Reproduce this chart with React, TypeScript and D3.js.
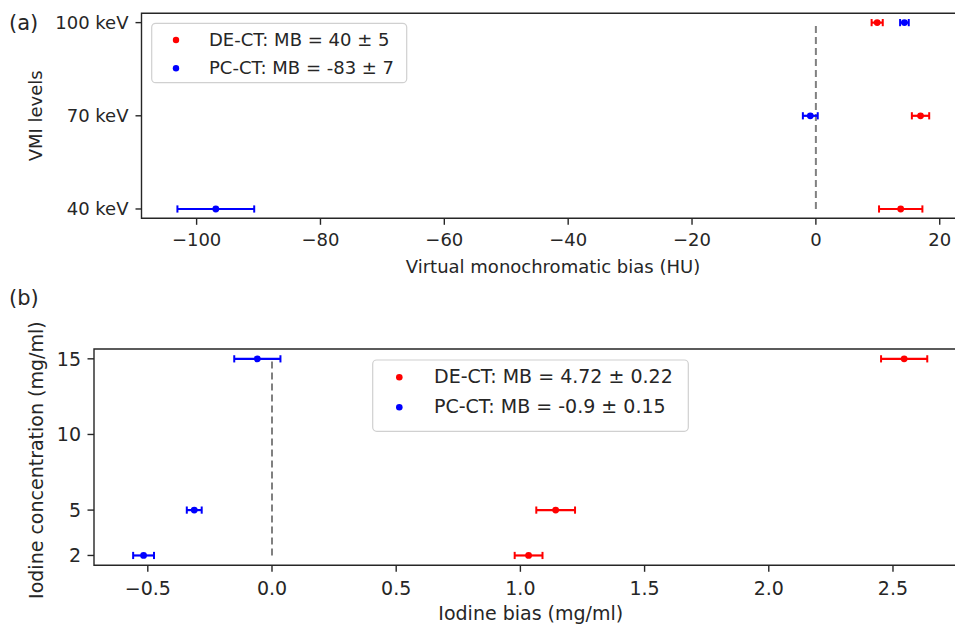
import React from "react";
import * as d3 from "d3";

// ---------- Data ----------
// Panel (a): VMI levels (keV)
const vmiLevels = [40, 70, 100];
const vmiTickLabels = ["40 keV", "70 keV", "100 keV"];
const vmiDE = [13.7, 16.9, 9.9];
const vmiDEErr = [3.5, 1.4, 0.9];
const vmiPC = [-96.9, -0.9, 14.3];
const vmiPCErr = [6.2, 1.2, 0.7];
const vmiXTicks = [-100, -80, -60, -40, -20, 0, 20];
const vmiLegend = ["DE-CT: MB = 40 ± 5", "PC-CT: MB = -83 ± 7"];

// Panel (b): iodine concentration (mg/ml)
const iodConc = [2, 5, 15];
const iodYTicks = [2, 5, 10, 15];
const iodDE = [1.033, 1.142, 2.545];
const iodDEErr = [0.056, 0.078, 0.093];
const iodPC = [-0.517, -0.313, -0.059];
const iodPCErr = [0.042, 0.03, 0.093];
const iodXTicks = [-0.5, 0.0, 0.5, 1.0, 1.5, 2.0, 2.5];
const iodLegend = ["DE-CT: MB = 4.72 ± 0.22", "PC-CT: MB = -0.9 ± 0.15"];

const FONT = "'DejaVu Sans', sans-serif";
const TXT = "#262626";
const SPINE = "#262626";
const RED = "#ff0000";
const BLUE = "#0000ff";

const fmtMinus = (s: string) => s.replace("-", "\u2212");

type Series = { x: number[]; err: number[]; y: number[]; color: string };

function ErrSeries({ s, xs, ys }: { s: Series; xs: d3.ScaleLinear<number, number>; ys: d3.ScaleLinear<number, number> }) {
  return (
    <g>
      {s.x.map((v, i) => {
        const cy = ys(s.y[i]);
        const x0 = xs(v - s.err[i]);
        const x1 = xs(v + s.err[i]);
        return (
          <g key={i}>
            <line x1={x0} x2={x1} y1={cy} y2={cy} stroke={s.color} strokeWidth={2.2} />
            <line x1={x0} x2={x0} y1={cy - 3.6} y2={cy + 3.6} stroke={s.color} strokeWidth={2} />
            <line x1={x1} x2={x1} y1={cy - 3.6} y2={cy + 3.6} stroke={s.color} strokeWidth={2} />
            <circle cx={xs(v)} cy={cy} r={3.4} fill={s.color} />
          </g>
        );
      })}
    </g>
  );
}

export default function App() {
  // ---- Panel (a) scales ----
  const ax = { left: 141.5, right: 964.5, top: 13.3, bottom: 218.3 };
  const xA = d3.scaleLinear().domain([-108.9, 24]).range([ax.left, ax.right]);
  const yA = d3.scaleLinear().domain([37, 103]).range([ax.bottom, ax.top]);

  // ---- Panel (b) scales ----
  const bx = { left: 94, right: 967.5, top: 349, bottom: 565.3 };
  const xB = d3.scaleLinear().domain([-0.7166, 2.8]).range([bx.left, bx.right]);
  const yB = d3.scaleLinear().domain([1.35, 15.65]).range([bx.bottom, bx.top]);

  const fA = 18;
  const fB = 19;

  return (
    <svg
      width={955}
      height={625}
      style={{ position: "absolute", left: 0, top: 0, background: "#fff" }}
      fontFamily={FONT}
    >
      <rect x={0} y={0} width={955} height={625} fill="#fff" />

      {/* ================= Panel (a) ================= */}
      <text x={9} y={30} fontSize={21} fill={TXT}>(a)</text>

      {/* dashed zero line */}
      <line
        x1={xA(0)} x2={xA(0)} y1={yA(40)} y2={yA(100)}
        stroke="#808080" strokeWidth={2} strokeDasharray="7,4"
      />

      <ErrSeries s={{ x: vmiDE, err: vmiDEErr, y: vmiLevels, color: RED }} xs={xA} ys={yA} />
      <ErrSeries s={{ x: vmiPC, err: vmiPCErr, y: vmiLevels, color: BLUE }} xs={xA} ys={yA} />

      {/* spines */}
      <path
        d={`M${ax.right},${ax.top}H${ax.left}V${ax.bottom}H${ax.right}`}
        fill="none" stroke={SPINE} strokeWidth={1.4}
      />

      {/* y ticks */}
      {vmiLevels.map((v, i) => (
        <g key={i}>
          <line x1={ax.left - 6} x2={ax.left} y1={yA(v)} y2={yA(v)} stroke={SPINE} strokeWidth={1.4} />
          <text x={ax.left - 13} y={yA(v) + fA * 0.36} fontSize={fA} fill={TXT} textAnchor="end">
            {vmiTickLabels[i]}
          </text>
        </g>
      ))}
      {/* x ticks */}
      {vmiXTicks.map((v, i) => (
        <g key={i}>
          <line x1={xA(v)} x2={xA(v)} y1={ax.bottom} y2={ax.bottom + 6.5} stroke={SPINE} strokeWidth={1.4} />
          <text x={xA(v)} y={246} fontSize={fA} fill={TXT} textAnchor="middle">
            {fmtMinus(String(v))}
          </text>
        </g>
      ))}
      <text x={(ax.left + ax.right) / 2} y={273} fontSize={fA} fill={TXT} textAnchor="middle">
        Virtual monochromatic bias (HU)
      </text>
      <text
        transform={`translate(41.5,${(ax.top + ax.bottom) / 2}) rotate(-90)`}
        fontSize={fA} fill={TXT} textAnchor="middle"
      >
        VMI levels
      </text>

      {/* legend (a) */}
      <rect x={151.7} y={23.3} width={255} height={59.4} rx={4} fill="#fff" fillOpacity={0.8} stroke="#d0d0d0" strokeWidth={1.2} />
      {vmiLegend.map((t, i) => (
        <g key={i}>
          <circle cx={176} cy={40 + i * 28.3} r={3.2} fill={i === 0 ? RED : BLUE} />
          <text x={209} y={46 + i * 28.3} fontSize={fA} fill={TXT}>{t}</text>
        </g>
      ))}

      {/* ================= Panel (b) ================= */}
      <text x={9} y={305} fontSize={21} fill={TXT}>(b)</text>

      <line
        x1={xB(0)} x2={xB(0)} y1={yB(2)} y2={yB(15)}
        stroke="#808080" strokeWidth={2} strokeDasharray="7,4"
      />

      <ErrSeries s={{ x: iodDE, err: iodDEErr, y: iodConc, color: RED }} xs={xB} ys={yB} />
      <ErrSeries s={{ x: iodPC, err: iodPCErr, y: iodConc, color: BLUE }} xs={xB} ys={yB} />

      <path
        d={`M${bx.right},${bx.top}H${bx.left}V${bx.bottom}H${bx.right}`}
        fill="none" stroke={SPINE} strokeWidth={1.4}
      />

      {iodYTicks.map((v, i) => (
        <g key={i}>
          <line x1={bx.left - 6.5} x2={bx.left} y1={yB(v)} y2={yB(v)} stroke={SPINE} strokeWidth={1.4} />
          <text x={bx.left - 13} y={yB(v) + fB * 0.36} fontSize={fB} fill={TXT} textAnchor="end">
            {String(v)}
          </text>
        </g>
      ))}
      {iodXTicks.map((v, i) => (
        <g key={i}>
          <line x1={xB(v)} x2={xB(v)} y1={bx.bottom} y2={bx.bottom + 6.5} stroke={SPINE} strokeWidth={1.4} />
          <text x={xB(v)} y={595} fontSize={fB} fill={TXT} textAnchor="middle">
            {fmtMinus(v.toFixed(1))}
          </text>
        </g>
      ))}
      <text x={(bx.left + bx.right) / 2} y={620} fontSize={fB} fill={TXT} textAnchor="middle">
        Iodine bias (mg/ml)
      </text>
      <text
        transform={`translate(42.5,${(bx.top + bx.bottom) / 2 + 3}) rotate(-90)`}
        fontSize={fB} fill={TXT} textAnchor="middle"
      >
        Iodine concentration (mg/ml)
      </text>

      {/* legend (b) */}
      <rect x={372.7} y={360} width={315.6} height={71.3} rx={4} fill="#fff" fillOpacity={0.8} stroke="#d0d0d0" strokeWidth={1.2} />
      {iodLegend.map((t, i) => (
        <g key={i}>
          <circle cx={399.3} cy={377.3 + i * 30} r={3.3} fill={i === 0 ? RED : BLUE} />
          <text x={434} y={382.5 + i * 30} fontSize={fB} fill={TXT}>{t}</text>
        </g>
      ))}
    </svg>
  );
}
